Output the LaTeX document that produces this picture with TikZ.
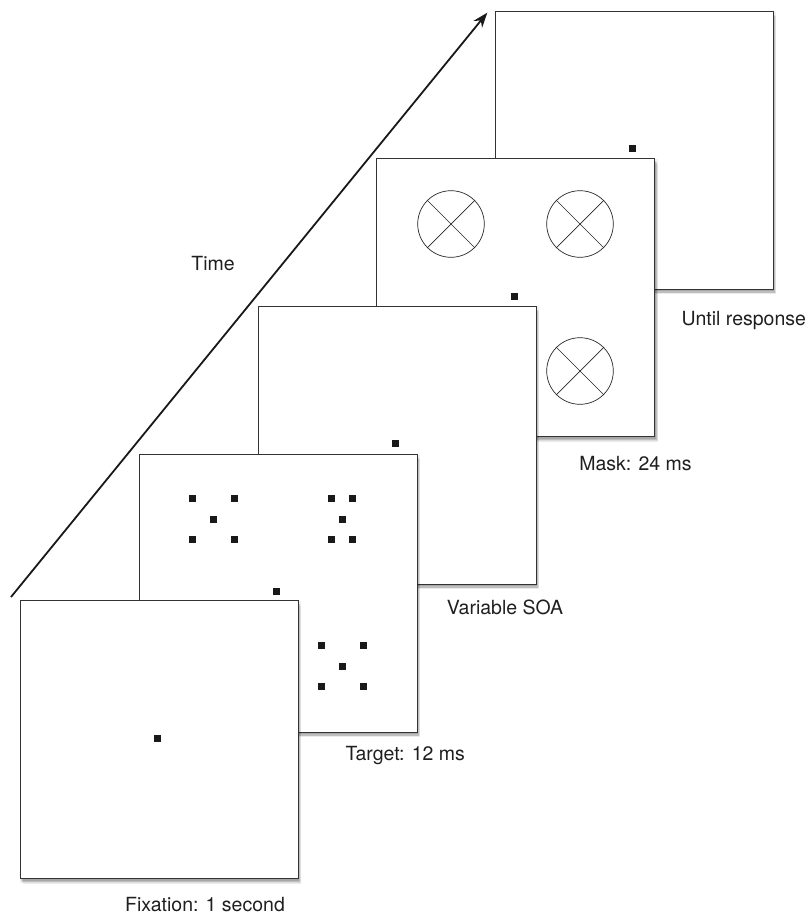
\documentclass[tikz,border=0pt]{standalone}
\usepackage{fontspec}
\setmainfont{TeX Gyre Heros}
\usetikzlibrary{arrows.meta,shadows}
\tikzset{
  frame/.style={draw=black!80, fill=white, minimum width=278pt, minimum height=278pt,
    inner sep=0pt, line width=0.8pt,
    general shadow={fill=black, opacity=0.06, shadow scale=1.012, shadow xshift=1.5pt, shadow yshift=-2.5pt},
    general shadow={fill=black, opacity=0.12, shadow xshift=1pt, shadow yshift=-2pt},
    general shadow={fill=black, opacity=0.14, shadow xshift=2pt, shadow yshift=-3.5pt},
    general shadow={fill=black, opacity=0.08, shadow xshift=3pt, shadow yshift=-5pt}},
  dot/.style={fill=black!90, minimum size=7pt, inner sep=0pt, outer sep=0pt},
  mask/.style={draw=black!85, circle, minimum size=66.6pt, inner sep=0pt, line width=0.7pt},
  maskline/.style={draw=black!85, line width=0.7pt},
  lbl/.style={anchor=base, font=\fontsize{19.5}{23}\selectfont, text=black!88, inner sep=0pt},
  timearrow/.style={line width=1.8pt, draw=black!90, -{Stealth[length=15pt,width=11pt]}}
}
\begin{document}
\begin{tikzpicture}[x=1pt,y=-1pt]
\useasboundingbox (0,0) rectangle (808,916);

% time arrow
\coordinate (ta) at (11,597);
\coordinate (tb) at (487.3,12.7);
\draw[timearrow] (ta) -- (tb);
\node[lbl] (ltime) at (213,270.7) {Time};

% frame 5: until response
\node[frame] (f5) at (634,150) {};
\node[dot] (d5) at (632.5,148.5) {};
\node[lbl] (l5) at (743.8,325) {Until response};

% frame 4: mask
\node[frame] (f4) at (515.5,297.5) {};
\node[dot] (d4) at (514,296) {};
\node[mask] (m1) at (451,224) {};
\node[mask] (m2) at (580,224) {};
\node[mask] (m3) at (580,371) {};
\foreach \m in {m1,m2,m3}{
  \draw[maskline] (\m.45) -- (\m.225);
  \draw[maskline] (\m.135) -- (\m.315);
}
\node[lbl] (l4) at (635.5,470.7) {Mask: 24 ms};

% frame 3: variable SOA
\node[frame] (f3) at (397,445) {};
\node[dot] (d3) at (395.5,443.5) {};
\node[lbl] (l3) at (505,614) {Variable SOA};

% frame 2: target
\node[frame] (f2) at (278,593) {};
\node[dot] (d2) at (276.5,591) {};
% top-left cluster
\node[dot] (a1) at (192.3,498.3) {};
\node[dot] (a2) at (234.3,498.3) {};
\node[dot] (a3) at (213.3,519) {};
\node[dot] (a4) at (192.3,539.3) {};
\node[dot] (a5) at (234.3,539.3) {};
% top-right cluster
\node[dot] (b1) at (331.7,498.3) {};
\node[dot] (b2) at (352.7,498.3) {};
\node[dot] (b3) at (342.3,519) {};
\node[dot] (b4) at (331.7,539.3) {};
\node[dot] (b5) at (352.7,539.3) {};
% bottom-right cluster
\node[dot] (c1) at (321.3,645) {};
\node[dot] (c2) at (363.3,645) {};
\node[dot] (c3) at (342.3,666) {};
\node[dot] (c4) at (321.3,686.7) {};
\node[dot] (c5) at (363.3,686.7) {};
\node[lbl] (l2) at (405.3,760.7) {Target: 12 ms};

% frame 1: fixation
\node[frame] (f1) at (159,739.5) {};
\node[dot] (d1) at (157.7,738.3) {};
\node[lbl] (l1) at (205,911) {Fixation: 1 second};
\end{tikzpicture}
\end{document}
